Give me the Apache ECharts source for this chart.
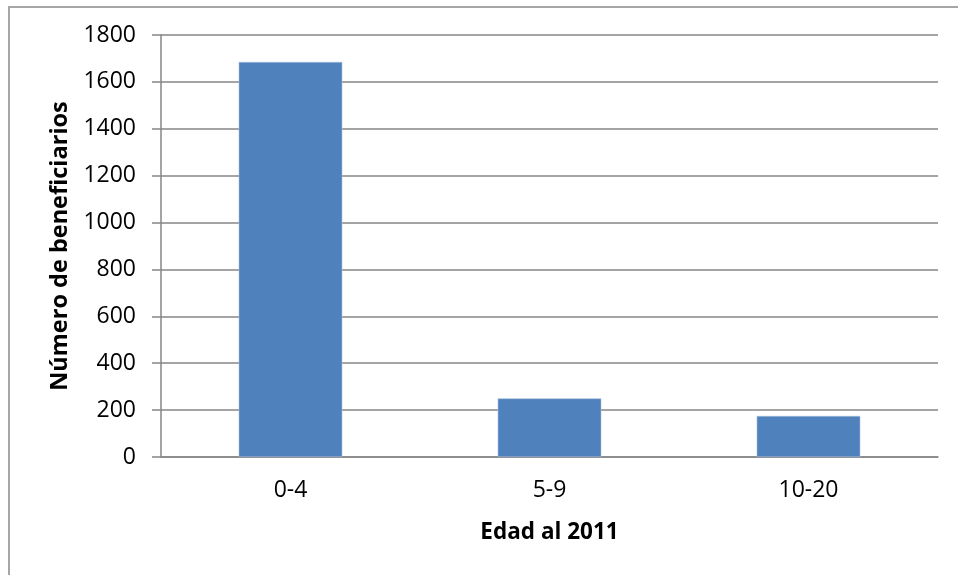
<!DOCTYPE html>
<html>
<head>
<meta charset="utf-8">
<title>Beneficiarios por edad</title>
<script src="https://cdn.jsdelivr.net/npm/echarts@6/dist/echarts.min.js"></script>
<style>
	html,body{
		margin:0;
		padding:0;
		background:#fff;
	}
	#edadChart{
		width:958px;
		height:575px;
	}
</style>
</head>
<body>
<div id="edadChart"></div>
<script>
	// datos del grafico
	let categorias = ['0-4','5-9','10-20'];
	let beneficiarios = [1685,250,175];

	let chart = echarts.init(document.getElementById('edadChart'));
	let gris = '#868686';
	let option = {
		animation:false,
		textStyle:{fontFamily:'"Open Sans", sans-serif'},
		grid:{
			left:161,
			right:20,
			top:35,
			bottom:118
		},
		// marco exterior (solo borde superior e izquierdo visibles)
		graphic:[{
			type:'polyline',
			silent:true,
			shape:{points:[[9,575],[9,7],[958,7]]},
			style:{stroke:'#a6a6a6',lineWidth:2,fill:null}
		}],
		xAxis:{
			type:'category',
			data:categorias,
			name:'Edad al 2011',
			nameLocation:'middle',
			nameGap:64,
			nameTextStyle:{color:'#000',fontSize:22.5,fontWeight:'bold'},
			axisLine:{lineStyle:{color:gris,width:1.5}},
			axisTick:{show:false},
			axisLabel:{color:'#000',fontSize:23,margin:22}
		},
		yAxis:{
			type:'value',
			min:0,
			max:1800,
			interval:200,
			name:'Número de beneficiarios',
			nameLocation:'middle',
			nameGap:87,
			nameTextStyle:{color:'#000',fontSize:23.5,fontWeight:'bold'},
			axisLine:{show:true,lineStyle:{color:gris,width:1.5}},
			axisTick:{show:true,length:9,lineStyle:{color:gris,width:1.5}},
			axisLabel:{
				color:'#000',
				fontSize:23,
				margin:25,
				formatter:function(v){ return String(v); }
			},
			splitLine:{lineStyle:{color:gris,width:1.5}}
		},
		series:[{
			type:'bar',
			data:beneficiarios,
			barWidth:'40%',
			itemStyle:{
				color:'#4f81bd',
				borderColor:'#a7bfde',
				borderWidth:0.6
			}
		}]
	};
	chart.setOption(option);
</script>
</body>
</html>
